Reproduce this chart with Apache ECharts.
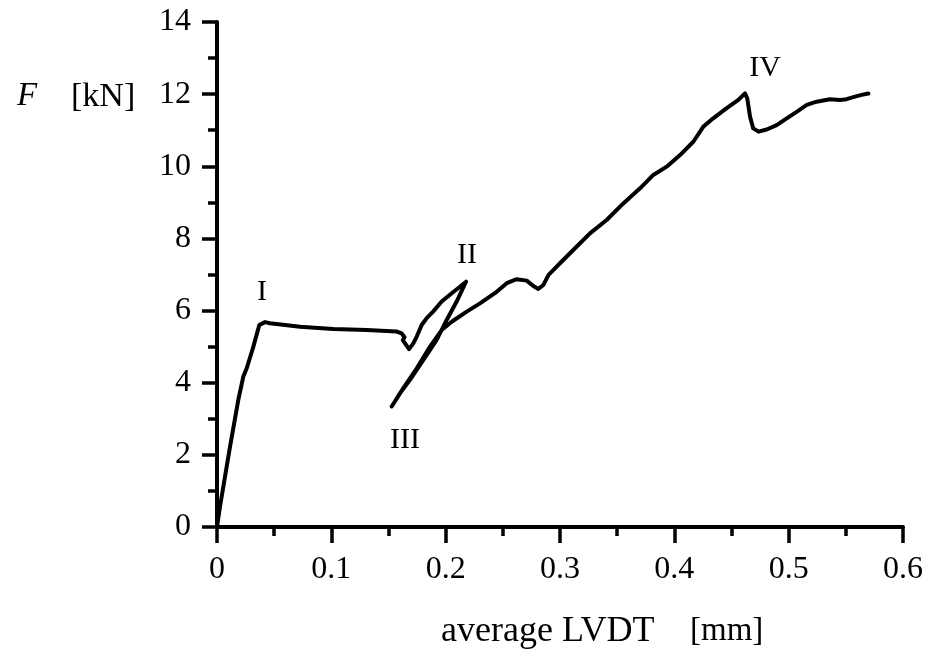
<!DOCTYPE html>
<html>
<head>
<meta charset="utf-8">
<script src="https://cdn.jsdelivr.net/npm/echarts@6/dist/echarts.min.js"></script>
<style>
  html, body { margin: 0; padding: 0; background: #fff; }
  #chart { width: 928px; height: 656px; }
</style>
</head>
<body>
<div id="chart"></div>
<script>
// Load-displacement record: average LVDT displacement [mm] vs force F [kN]
const lvdt = [
  0, 0.0026, 0.0114, 0.0186, 0.023, 0.026, 0.0318, 0.037, 0.042, 0.0464,
  0.0726, 0.1017, 0.131, 0.157, 0.1615, 0.164, 0.1625, 0.168, 0.1717,
  0.1747, 0.179, 0.1834, 0.189, 0.1965, 0.2053, 0.2125, 0.2178,
  0.2096, 0.2009, 0.192, 0.1805, 0.1688, 0.160, 0.1528,
  0.163, 0.1747, 0.1863, 0.1965, 0.2053, 0.2184, 0.230, 0.2446, 0.2534,
  0.2621, 0.2709, 0.2767, 0.281, 0.2855, 0.290, 0.2956, 0.3015, 0.3116,
  0.3262, 0.3408, 0.3554, 0.370, 0.3816, 0.3933, 0.405, 0.4166, 0.4254,
  0.434, 0.4458, 0.456, 0.4618, 0.4638, 0.4662, 0.469, 0.4737, 0.4808,
  0.4895, 0.4983, 0.507, 0.5158, 0.5245, 0.536, 0.5449, 0.5507, 0.558,
  0.5638, 0.5697
];
const force = [
  0, 0.56, 2.23, 3.52, 4.17, 4.40, 5.0, 5.60, 5.68, 5.65,
  5.55, 5.49, 5.46, 5.42, 5.37, 5.26, 5.18, 4.93, 5.09,
  5.28, 5.6, 5.79, 5.97, 6.25, 6.48, 6.66, 6.80,
  6.25, 5.74, 5.18, 4.63, 4.08, 3.71, 3.34,
  3.85, 4.40, 5.0, 5.46, 5.69, 5.97, 6.20, 6.52, 6.76,
  6.87, 6.83, 6.68, 6.60, 6.71, 6.99, 7.17, 7.36, 7.68,
  8.14, 8.51, 8.97, 9.39, 9.76, 9.99, 10.31, 10.68, 11.10,
  11.33, 11.61, 11.84, 12.02, 11.88, 11.38, 11.05, 10.96, 11.02,
  11.14, 11.33, 11.51, 11.70, 11.79, 11.86, 11.84, 11.86, 11.93,
  11.98, 12.02
];

// Stage markers placed next to the curve
const stageNames = ['I', 'II', 'III', 'IV'];
const stageX = [0.0394, 0.2187, 0.1644, 0.4793];
const stageY = [6.52, 7.54, 2.41, 12.73];

const serif = 'Liberation Serif, Times New Roman, serif';

const curve = lvdt.map((x, i) => [x, force[i]]);
const stages = stageNames.map((n, i) => ({ value: [stageX[i], stageY[i]], name: n }));

const chart = echarts.init(document.getElementById('chart'));
chart.setOption({
  animation: false,
  backgroundColor: '#ffffff',
  grid: { left: 217, right: 25, top: 22, bottom: 129, containLabel: false },
  xAxis: {
    type: 'value', min: 0, max: 0.6, interval: 0.1,
    axisLine: { show: true, onZero: false, lineStyle: { color: '#000', width: 4 } },
    axisTick: { show: true, length: 16, lineStyle: { color: '#000', width: 3.5 } },
    minorTick: { show: true, splitNumber: 2, length: 9, lineStyle: { color: '#000', width: 3.5 } },
    splitLine: { show: false },
    axisLabel: { color: '#000', fontFamily: serif, fontSize: 32, margin: 27 }
  },
  yAxis: {
    type: 'value', min: 0, max: 14, interval: 2,
    axisLine: { show: true, onZero: false, lineStyle: { color: '#000', width: 4 } },
    axisTick: { show: true, length: 15, lineStyle: { color: '#000', width: 3.5 } },
    minorTick: { show: true, splitNumber: 2, length: 9, lineStyle: { color: '#000', width: 3.5 } },
    splitLine: { show: false },
    axisLabel: { color: '#000', fontFamily: serif, fontSize: 32, margin: 26 }
  },
  graphic: [
    { type: 'text', left: 17, top: 80, style: { text: 'F', fontFamily: serif, fontStyle: 'italic', fontSize: 33, fill: '#000' } },
    { type: 'text', left: 71, top: 80, style: { text: '[kN]', fontFamily: serif, fontSize: 34, fill: '#000' } },
    { type: 'text', left: 441, top: 614, style: { text: 'average LVDT', fontFamily: serif, fontSize: 36, fill: '#000' } },
    { type: 'text', left: 690, top: 615, style: { text: '[mm]', fontFamily: serif, fontSize: 33, fill: '#000' } }
  ],
  series: [
    {
      type: 'line',
      data: curve,
      showSymbol: false,
      smooth: false,
      lineStyle: { color: '#000', width: 4, join: 'round', cap: 'round' },
      z: 3
    },
    {
      type: 'scatter',
      data: stages,
      symbolSize: 0,
      silent: true,
      itemStyle: { opacity: 1, color: '#000' },
      label: {
        show: true, position: 'inside',
        formatter: p => p.name,
        color: '#000', fontFamily: serif, fontSize: 30
      }
    }
  ]
});
</script>
</body>
</html>
